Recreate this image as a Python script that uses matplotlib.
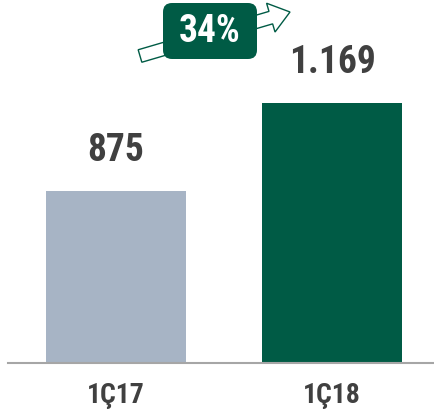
import matplotlib.pyplot as plt
from matplotlib.patches import FancyArrow, FancyBboxPatch

# data
periods = ['1Ç17', '1Ç18']
values = [875, 1169]
growth_label = '34%'

bar_colors = ['#A7B4C5', '#005B45']
text_color = '#404040'
green = '#005B45'
plt.rcParams['font.family'] = ['Roboto Condensed', 'DejaVu Sans']

fig = plt.figure(figsize=(4.34, 4.15), dpi=100)
ax = fig.add_axes([8 / 434, 52 / 415, 426 / 434, 363 / 415])

x = range(len(values))
bars = ax.bar(x, values, width=0.648, color=bar_colors)
ax.set_ylim(300, 1513)
ax.set_xlim(-0.5, 1.472)

for b, v in zip(bars, values):
    lbl = f'{v:,}'.replace(',', '.')
    ax.annotate(lbl, (b.get_x() + b.get_width() / 2, v), xytext=(0, 16),
                textcoords='offset points', ha='center', va='bottom',
                fontsize=27, fontweight='bold', color=text_color)

ax.set_xticks(list(x))
ax.set_xticklabels(periods, fontsize=20, fontweight='bold', color=text_color)
ax.tick_params(axis='x', length=0, pad=14)
ax.set_yticks([])
for s in ['top', 'right', 'left']:
    ax.spines[s].set_visible(False)
ax.spines['bottom'].set_color('#A6A6A6')
ax.spines['bottom'].set_linewidth(1.5)

# overlay in pixel coords for the growth arrow and badge
ov = fig.add_axes([0, 0, 1, 1], facecolor='none')
ov.set_xlim(0, 434)
ov.set_ylim(415, 0)
ov.axis('off')
arrow = FancyArrow(140, 56, 150, -44, width=13, head_width=30, head_length=20,
                   length_includes_head=True, facecolor='white',
                   edgecolor=green, linewidth=1.0)
ov.add_patch(arrow)
box = FancyBboxPatch((170, 10), 80, 42, boxstyle='round,pad=7,rounding_size=9',
                     facecolor=green, edgecolor='none')
ov.add_patch(box)
ov.text(210, 32, growth_label, ha='center', va='center', fontsize=27,
        fontweight='bold', color='white')

fig.savefig('out.png', dpi=100)
